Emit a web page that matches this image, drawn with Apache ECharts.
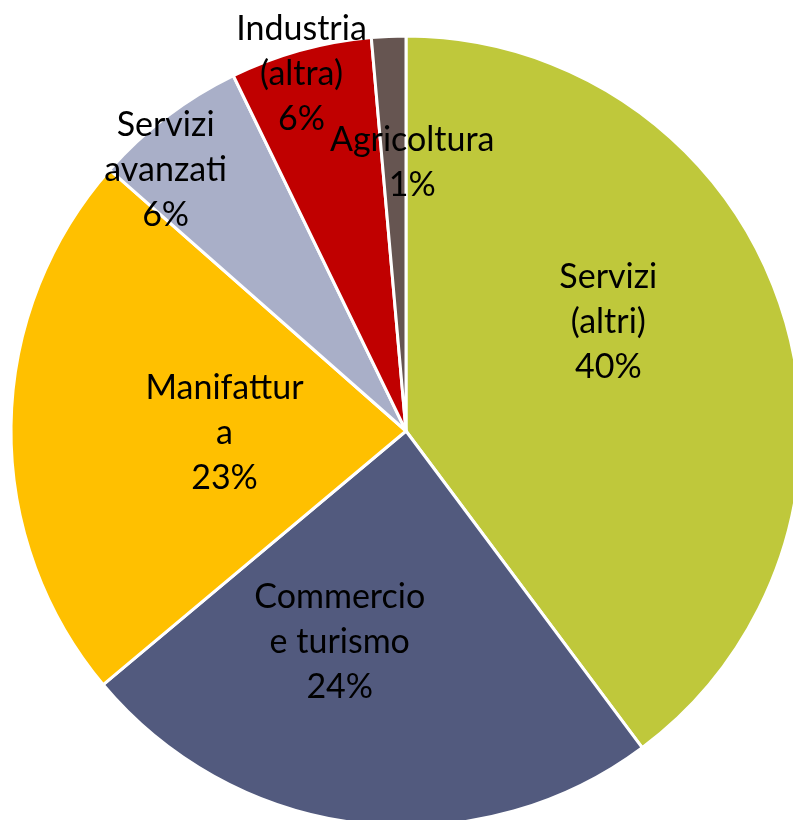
<!DOCTYPE html>
<html>
<head>
<meta charset="utf-8">
<script src="https://cdn.jsdelivr.net/npm/echarts@6/dist/echarts.min.js"></script>
<style>
html,body{margin:0;padding:0;background:#fff;}
#chart{width:793px;height:820px;}
</style>
</head>
<body>
<div id="chart"></div>
<script>
const categories = ['Servizi\n(altri)', 'Commercio\ne turismo', 'Manifattur\na', 'Servizi\navanzati', 'Industria\n(altra)', 'Agricoltura'];
const values = [39.8, 24.1, 22.6, 6.3, 5.8, 1.4];
const colors = ['#BFC83B', '#525A7E', '#FFC000', '#A9AFC8', '#C00000', '#665551'];
// label nudges from the default inside position (style only)
const labelNudges = [[12, -46], [-43, 12], [19, 5], [-119, -101], [-51, -164], [15, -68]];

const chart = echarts.init(document.getElementById('chart'), null, {renderer: 'canvas'});
chart.setOption({
  animation: false,
  backgroundColor: '#ffffff',
  series: [{
    type: 'pie',
    center: [406, 431],
    radius: [0, 395],
    startAngle: 90,
    clockwise: true,
    percentPrecision: 0,
    avoidLabelOverlap: false,
    minShowLabelAngle: 0,
    data: categories.map((c, i) => ({name: c, value: values[i], itemStyle: {color: colors[i]}})),
    itemStyle: {borderColor: '#ffffff', borderWidth: 3},
    label: {
      show: true,
      position: 'inside',
      formatter: '{b}\n{d}%',
      color: '#000000',
      fontFamily: 'Lato',
      fontSize: 34,
      lineHeight: 45,
      align: 'center'
    },
    labelLine: {show: false},
    emphasis: {disabled: true},
    labelLayout: function (params) {
      const n = labelNudges[params.dataIndex] || [0, 0];
      return {dx: n[0], dy: n[1], hideOverlap: false};
    }
  }]
});
</script>
</body>
</html>
